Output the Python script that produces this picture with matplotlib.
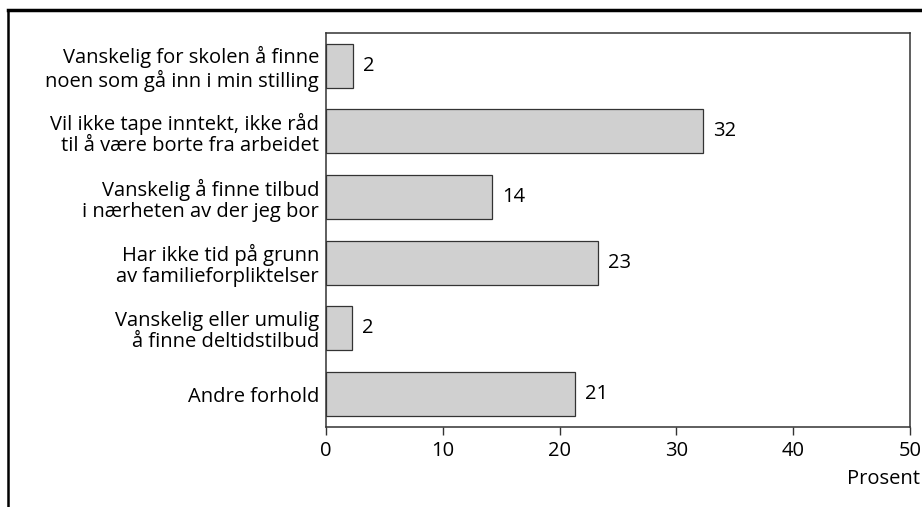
import matplotlib
matplotlib.use("Agg")
import matplotlib.pyplot as plt
from matplotlib.lines import Line2D

categories = [
    "Vanskelig for skolen å finne\nnoen som gå inn i min stilling",
    "Vil ikke tape inntekt, ikke råd\ntil å være borte fra arbeidet",
    "Vanskelig å finne tilbud\ni nærheten av der jeg bor",
    "Har ikke tid på grunn\nav familieforpliktelser",
    "Vanskelig eller umulig\nå finne deltidstilbud",
    "Andre forhold",
]
values = [2.3, 32.3, 14.2, 23.3, 2.2, 21.3]
labels = ["2", "32", "14", "23", "2", "21"]
xticks = [0, 10, 20, 30, 40, 50]

plt.rcParams["font.family"] = ["Open Sans", "DejaVu Sans"]
FS = 14.5

fig = plt.figure(figsize=(9.22, 5.07), dpi=100)
ax = fig.add_axes([0.3536, 0.158, 0.6334, 0.777])

pos = list(range(len(categories)))
ax.barh(pos, values, height=0.67, color="#d0d0d0", edgecolor="#333333", linewidth=0.9)
for p, v, lab in zip(pos, values, labels):
    ax.text(v + 0.85, p, lab, va="center", ha="left", fontsize=FS)

ax.set_ylim(5.5, -0.5)
ax.set_xlim(0, 50)
ax.set_yticks(pos)
ax.set_yticklabels(categories, fontsize=FS, linespacing=1.08)
ax.tick_params(axis="y", length=0, pad=5)
ax.set_xticks(xticks)
ax.set_xticklabels([str(t) for t in xticks], fontsize=FS)
ax.tick_params(axis="x", direction="out", length=6, width=1, pad=4, color="#333333")
for s in ax.spines.values():
    s.set_color("#333333")
    s.set_linewidth(1.1)

fig.text(0.998, 0.055, "Prosent", ha="right", va="center", fontsize=FS)

# outer frame
fig.add_artist(Line2D([8 / 922, 1.0], [1 - 10 / 507, 1 - 10 / 507], color="black", linewidth=2.5,
                      transform=fig.transFigure))
fig.add_artist(Line2D([8 / 922, 8 / 922], [1 - 10 / 507, 0.0], color="black", linewidth=1.8,
                      transform=fig.transFigure))

fig.savefig("out.png", dpi=100)
plt.close(fig)
